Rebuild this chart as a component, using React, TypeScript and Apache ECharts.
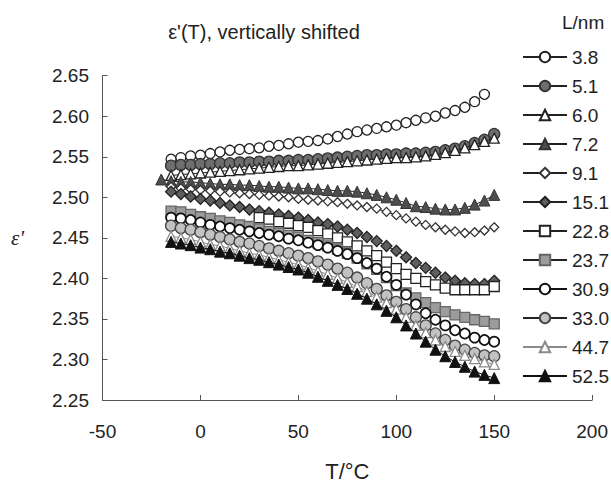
import React, { useEffect, useRef } from "react";
import * as echarts from "echarts";

// Temperatures (°C), index-aligned with every series below (null = no measurement)
const TEMPS = [-20, -15, -10, -5, 0, 5, 10, 15, 20, 25, 30, 35, 40, 45, 50, 55, 60, 65, 70, 75, 80, 85, 90, 95, 100, 105, 110, 115, 120, 125, 130, 135, 140, 145, 150];

const L3_8 = [null, 2.547, 2.549, 2.551, 2.552, 2.554, 2.556, 2.558, 2.559, 2.560, 2.561, 2.563, 2.564, 2.566, 2.568, 2.569, 2.570, 2.572, 2.575, 2.578, 2.581, 2.583, 2.585, 2.587, 2.589, 2.592, 2.595, 2.598, 2.600, 2.604, 2.607, 2.611, 2.618, 2.627, null];
const L5_1 = [null, 2.539, 2.540, 2.540, 2.541, 2.541, 2.542, 2.542, 2.543, 2.543, 2.544, 2.544, 2.545, 2.545, 2.546, 2.546, 2.547, 2.548, 2.549, 2.550, 2.551, 2.552, 2.552, 2.553, 2.553, 2.554, 2.554, 2.555, 2.556, 2.558, 2.560, 2.563, 2.567, 2.571, 2.578];
const L6_0 = [null, 2.527, 2.528, 2.529, 2.530, 2.531, 2.532, 2.533, 2.534, 2.535, 2.536, 2.537, 2.538, 2.539, 2.539, 2.540, 2.541, 2.542, 2.543, 2.544, 2.545, 2.546, 2.547, 2.548, 2.549, 2.549, 2.550, 2.551, 2.553, 2.555, 2.558, 2.561, 2.565, 2.569, 2.573];
const L7_2 = [2.522, 2.520, 2.519, 2.519, 2.518, 2.517, 2.516, 2.516, 2.515, 2.515, 2.514, 2.513, 2.513, 2.512, 2.511, 2.511, 2.510, 2.509, 2.508, 2.508, 2.507, 2.505, 2.503, 2.500, 2.497, 2.493, 2.489, 2.488, 2.486, 2.485, 2.485, 2.487, 2.491, 2.496, 2.503];
const L9_1 = [null, 2.513, 2.511, 2.510, 2.509, 2.508, 2.507, 2.506, 2.505, 2.504, 2.503, 2.502, 2.501, 2.500, 2.498, 2.497, 2.496, 2.495, 2.494, 2.492, 2.490, 2.488, 2.486, 2.482, 2.478, 2.474, 2.470, 2.466, 2.463, 2.460, 2.458, 2.456, 2.457, 2.459, 2.463];
const L15_1 = [null, 2.507, 2.504, 2.501, 2.498, 2.496, 2.493, 2.490, 2.488, 2.485, 2.483, 2.481, 2.479, 2.477, 2.475, 2.472, 2.469, 2.467, 2.464, 2.460, 2.456, 2.451, 2.446, 2.440, 2.434, 2.426, 2.419, 2.413, 2.407, 2.401, 2.397, 2.394, 2.393, 2.393, 2.397];
const L22_8 = [null, null, null, null, null, null, null, null, null, null, 2.475, 2.473, 2.470, 2.468, 2.465, 2.463, 2.459, 2.455, 2.450, 2.445, 2.440, 2.434, 2.428, 2.420, 2.412, 2.405, 2.400, 2.396, 2.392, 2.388, 2.386, 2.386, 2.386, 2.386, 2.390];
const L23_7 = [null, 2.483, 2.482, 2.479, 2.476, 2.474, 2.471, 2.469, 2.466, 2.464, 2.461, 2.458, 2.456, 2.453, 2.451, 2.447, 2.444, 2.440, 2.436, 2.431, 2.425, 2.418, 2.411, 2.401, 2.391, 2.382, 2.376, 2.370, 2.364, 2.359, 2.355, 2.352, 2.349, 2.347, 2.344];
const L30_9 = [null, 2.475, 2.474, 2.472, 2.469, 2.466, 2.464, 2.462, 2.460, 2.458, 2.456, 2.454, 2.452, 2.449, 2.447, 2.444, 2.441, 2.438, 2.434, 2.430, 2.425, 2.419, 2.412, 2.402, 2.392, 2.380, 2.368, 2.357, 2.349, 2.342, 2.336, 2.332, 2.327, 2.324, 2.322];
const L33_0 = [null, 2.465, 2.462, 2.460, 2.457, 2.454, 2.451, 2.448, 2.445, 2.443, 2.440, 2.437, 2.434, 2.431, 2.428, 2.425, 2.421, 2.417, 2.412, 2.407, 2.401, 2.394, 2.387, 2.379, 2.371, 2.362, 2.352, 2.342, 2.332, 2.324, 2.317, 2.312, 2.308, 2.305, 2.304];
const L44_7 = [null, 2.452, 2.450, 2.448, 2.445, 2.442, 2.440, 2.437, 2.434, 2.431, 2.429, 2.426, 2.423, 2.420, 2.417, 2.413, 2.409, 2.405, 2.400, 2.395, 2.390, 2.384, 2.377, 2.370, 2.362, 2.352, 2.342, 2.333, 2.324, 2.316, 2.310, 2.305, 2.301, 2.297, 2.294];
const L52_5 = [null, 2.445, 2.443, 2.441, 2.438, 2.436, 2.433, 2.431, 2.428, 2.425, 2.423, 2.420, 2.417, 2.414, 2.411, 2.407, 2.402, 2.397, 2.392, 2.387, 2.381, 2.375, 2.368, 2.360, 2.352, 2.342, 2.332, 2.322, 2.312, 2.304, 2.297, 2.291, 2.285, 2.281, 2.277];

const SERIES_NAMES = ["3.8", "5.1", "6.0", "7.2", "9.1", "15.1", "22.8", "23.7", "30.9", "33.0", "44.7", "52.5"];
const SERIES_VALUES = [L3_8, L5_1, L6_0, L7_2, L9_1, L15_1, L22_8, L23_7, L30_9, L33_0, L44_7, L52_5];

const X_MIN = -50;
const X_MAX = 200;
const X_STEP = 50;
const Y_MIN = 2.25;
const Y_MAX = 2.65;
const Y_STEP = 0.05;

const TITLE = "ε'(T), vertically shifted";
const LEGEND_TITLE = "L/nm";
const X_NAME = "T/°C";
const Y_NAME = "ε'";

// marker styles per series: [symbol, size, fill, border, borderWidth, lineColor]
const STYLES: [string, number, string, string, number, string][] = [
  ["circle", 10, "#ffffff", "#222222", 1.3, "#222222"],
  ["circle", 11, "#6e6e6e", "#333333", 1.3, "#222222"],
  ["triangle", 10, "#ffffff", "#222222", 1.3, "#222222"],
  ["triangle", 11, "#4e4e4e", "#333333", 1, "#222222"],
  ["diamond", 9, "#ffffff", "#333333", 1.3, "#222222"],
  ["diamond", 11, "#5e5e5e", "#222222", 1.3, "#222222"],
  ["rect", 10, "#ffffff", "#222222", 1.3, "#222222"],
  ["rect", 10, "#9c9c9c", "#666666", 1.3, "#222222"],
  ["circle", 10, "#ffffff", "#111111", 1.7, "#111111"],
  ["circle", 11, "#c2c2c2", "#444444", 1.3, "#222222"],
  ["triangle", 10, "#ffffff", "#8a8a8a", 1.3, "#8a8a8a"],
  ["triangle", 11, "#111111", "#111111", 1, "#111111"],
];

const FONT = "'Liberation Sans', Arial, sans-serif";

export default function App() {
  const ref = useRef<HTMLDivElement>(null);
  useEffect(() => {
    if (!ref.current) return;
    const chart = echarts.init(ref.current, null, { renderer: "svg" });
    const series = SERIES_NAMES.map((name, k) => {
      const [symbol, size, fill, border, bw, lineColor] = STYLES[k];
      const vals = SERIES_VALUES[k];
      const data: [number, number][] = [];
      TEMPS.forEach((t, i) => {
        const v = vals[i];
        if (v !== null && v !== undefined) data.push([t, v]);
      });
      return {
        name,
        type: "line",
        data,
        symbol,
        symbolSize: size,
        showSymbol: true,
        showAllSymbol: true,
        itemStyle: { color: fill, borderColor: border, borderWidth: bw },
        lineStyle: { color: lineColor, width: 1 },
        emphasis: { disabled: true },
        z: 2 + k,
      };
    });
    chart.setOption({
      animation: false,
      backgroundColor: "#ffffff",
      grid: { left: 102.5, right: 18, top: 75.7, bottom: 73.5, containLabel: false },
      xAxis: {
        type: "value",
        min: X_MIN,
        max: X_MAX,
        interval: X_STEP,
        name: X_NAME,
        nameLocation: "middle",
        nameGap: 71,
        nameTextStyle: { fontFamily: FONT, fontSize: 22, color: "#222", verticalAlign: "middle" },
        axisLine: { show: true, onZero: false, lineStyle: { color: "#555", width: 1 } },
        axisTick: { show: true, inside: true, length: 5, lineStyle: { color: "#555" } },
        axisLabel: { margin: 22, fontFamily: FONT, fontSize: 19, color: "#222" },
        splitLine: { show: false },
      },
      yAxis: {
        type: "value",
        min: Y_MIN,
        max: Y_MAX,
        interval: Y_STEP,
        name: Y_NAME,
        nameLocation: "middle",
        nameRotate: 0,
        nameGap: 85,
        nameTextStyle: {
          fontFamily: "'Liberation Serif', 'Times New Roman', serif",
          fontStyle: "italic",
          fontSize: 21,
          color: "#222",
          align: "center",
          verticalAlign: "middle",
        },
        axisLine: { show: true, onZero: false, lineStyle: { color: "#555", width: 1 } },
        axisTick: { show: true, inside: true, length: 5, lineStyle: { color: "#555" } },
        axisLabel: {
          margin: 13.5,
          fontFamily: FONT,
          fontSize: 19,
          color: "#222",
          formatter: (v: number) => v.toFixed(2),
        },
        splitLine: { show: false },
      },
      legend: {
        orient: "vertical",
        left: 522,
        top: 47.5,
        padding: 0,
        itemWidth: 44,
        itemHeight: 13,
        itemGap: 10,
        selectedMode: false,
        textStyle: { fontFamily: FONT, fontSize: 19, color: "#222" },
        data: SERIES_NAMES,
      },
      graphic: [
        {
          type: "text",
          x: 264,
          y: 32,
          style: { text: TITLE, fontFamily: FONT, fontSize: 20, fill: "#222", align: "center", verticalAlign: "middle" },
        },
        {
          type: "text",
          x: 562,
          y: 22,
          style: { text: LEGEND_TITLE, fontFamily: FONT, fontSize: 19, fill: "#222", align: "left", verticalAlign: "middle" },
        },
      ],
      series,
    });
    return () => chart.dispose();
  }, []);
  return <div ref={ref} style={{ position: "absolute", left: 0, top: 0, width: 611, height: 487 }} />;
}
